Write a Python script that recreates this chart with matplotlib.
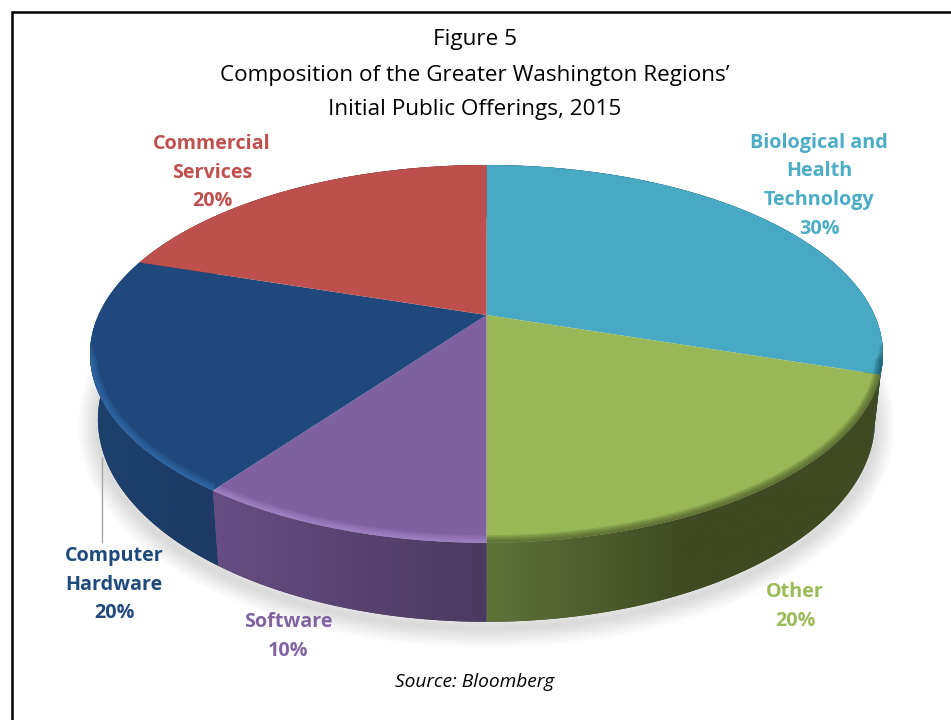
import numpy as np
import matplotlib
matplotlib.use('Agg')
import matplotlib.pyplot as plt
from matplotlib.colors import LinearSegmentedColormap
from matplotlib.patches import Polygon

plt.rcParams['font.family'] = ['Open Sans', 'DejaVu Sans']

# clockwise from 12 o'clock
categories = ['Biological and\nHealth\nTechnology', 'Other', 'Software', 'Computer\nHardware', 'Commercial\nServices']
shares = [30, 20, 10, 20, 20]
top_colors = ['#47a9c4', '#98b858', '#7f60a0', '#1f497d', '#bd4f4c']
label_colors = ['#4bacc6', '#9bbb59', '#8064a2', '#1f497d', '#c0504d']
side_left = ['#1d5a70', '#5f7338', '#664d82', '#1c416f', '#7a2f2d']
side_right = ['#1d5a70', '#3f4a22', '#4b3a5f', '#1c3a64', '#7a2f2d']
rim_colors = ['#0f3f52', '#3f4a22', '#b094d8', '#3a78b8', '#bd4f4c']
label_pos = [(819, 143), (795, 592), (288, 622), (114, 556), (212, 144)]
title_lines = ['Figure 5', 'Composition of the Greater Washington Regions\u2019', 'Initial Public Offerings, 2015']
title_y = [39, 75, 109]

# perspective of the tilted disc, in pixels
CX, CY = 486.5, 315
RX = 388
PERSP = 0.206
TILT = -116
DROP = 62.7
SHRINK = 0.98


def top_rim(theta):
    u, v = np.sin(theta), np.cos(theta)
    w = 1 + PERSP * v
    return CX + RX * u / w, (TILT * v + CY) / w


def bottom_rim(theta):
    u, v = np.sin(theta), np.cos(theta)
    w = 1 + PERSP * v
    return CX + SHRINK * RX * u / w, (TILT * v + CY + DROP) / w


fig = plt.figure(figsize=(9.51, 7.2), dpi=100)
ax = fig.add_axes([0, 0, 1, 1])
ax.axis('off')

# frame runs off the page on the right and at the bottom
ax.plot([951, 11.5, 11.5], [11.5, 11.5, 720], color='black', lw=1.8, solid_joinstyle='miter', zorder=1)

# soft drop shadow under the base
all_t = np.linspace(0, 2 * np.pi, 400)
bx, by = bottom_rim(all_t)
for lw in np.arange(28, 1, -3):
    ax.add_patch(Polygon(np.column_stack([bx, by + 6]), closed=True, fc='none', ec='black',
                         lw=lw, alpha=0.016, joinstyle='round', zorder=2))

edges = np.radians(np.concatenate([[0], np.cumsum(shares)]) * 3.6)

# side walls, back to front
order = [0, 4, 3, 1, 2]
for i in order:
    t = np.linspace(edges[i], edges[i + 1], 120)
    x1, y1 = top_rim(t)
    x2, y2 = bottom_rim(t)
    pts = np.column_stack([np.r_[x1, x2[::-1]], np.r_[y1, y2[::-1]]])
    poly = Polygon(pts, closed=True, fc=side_right[i], ec='none', zorder=3)
    ax.add_patch(poly)
    x0, x9 = pts[:, 0].min(), pts[:, 0].max()
    cmap = LinearSegmentedColormap.from_list('side', [side_left[i], side_right[i]])
    if i == 1:
        # the green wall runs light to dark going right
        cmap = LinearSegmentedColormap.from_list('side', [side_left[i], side_right[i], side_right[i]])
    img = ax.imshow(np.linspace(0, 1, 256).reshape(1, -1), cmap=cmap, aspect='auto',
                    extent=[x0, x9, pts[:, 1].max(), pts[:, 1].min()], zorder=3.1)
    img.set_clip_path(poly)

ax.set_xlim(0, 951)
ax.set_ylim(720, 0)

# top face, bevel only along the front of the rim
for i in range(len(shares)):
    t = np.linspace(edges[i], edges[i + 1], 120)
    x1, y1 = top_rim(t)
    pts = np.column_stack([np.r_[CX, x1], np.r_[CY, y1]])
    poly = Polygon(pts, closed=True, fc=top_colors[i], ec='none', zorder=4)
    ax.add_patch(poly)
    for lw in np.arange(11, 1, -2):
        front = np.cos(t) < -0.12 - lw * 0.01
        if not front.any():
            continue
        line, = ax.plot(x1[front], y1[front], color=rim_colors[i], lw=lw, alpha=0.17,
                        solid_capstyle='butt', zorder=4.1)
        line.set_clip_path(poly)

for i, name in enumerate(categories):
    text = '%s\n%d%%' % (name, shares[i])
    for k, part in enumerate(text.split('\n')):
        ax.text(label_pos[i][0], label_pos[i][1] + k * 28.5, part, color=label_colors[i],
                fontsize=14.2, fontweight='bold', ha='center', va='center', zorder=6)

# leader line for the hardware label
ax.plot([102, 102], [458, 542], color='#a6a6a6', lw=1.0, zorder=5)

for s, y in zip(title_lines, title_y):
    ax.text(475, y, s, color='black', fontsize=16.2, ha='center', va='center', zorder=6)
ax.text(475, 682, 'Source: Bloomberg', color='black', fontsize=13.8, style='italic',
        ha='center', va='center', zorder=6)

fig.savefig('out.png', dpi=100, facecolor='white')
